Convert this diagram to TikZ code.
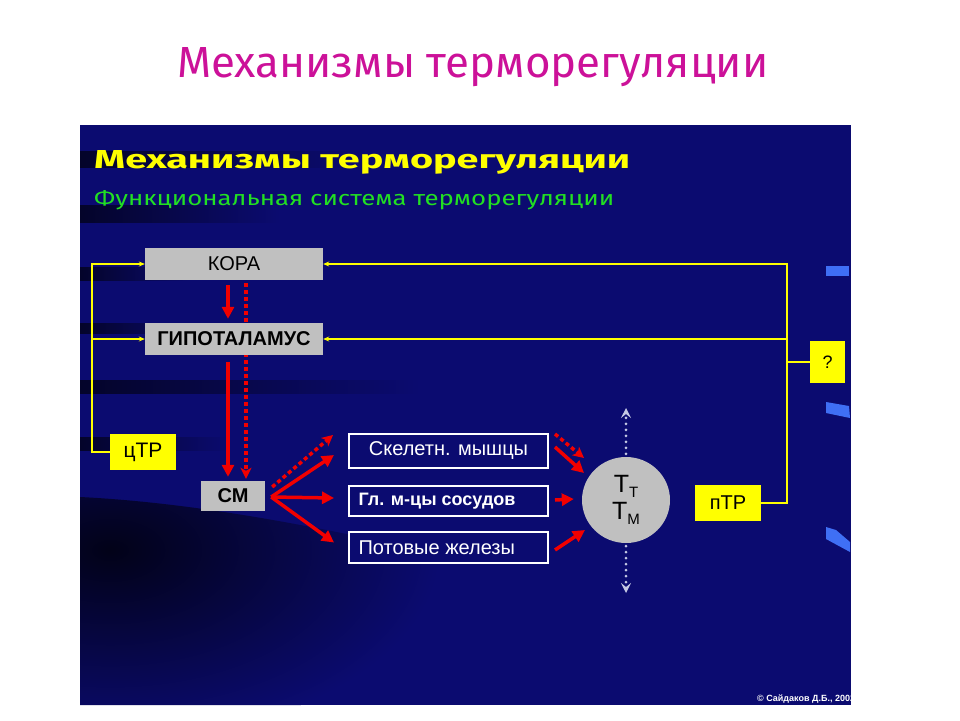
\documentclass[tikz,border=0pt]{standalone}
\usepackage{fontspec}
\setmainfont{Liberation Sans}
\newfontfamily\titlefont{Fira Sans}
\usepackage{graphicx}
\usetikzlibrary{arrows.meta,shapes.geometric,calc}
\definecolor{panel}{HTML}{0B0B70}
\definecolor{band}{HTML}{04042A}
\definecolor{deep}{HTML}{020218}
\definecolor{ttl}{HTML}{CC1199}
\definecolor{ylw}{HTML}{FFFF00}
\definecolor{grn}{HTML}{22E022}
\definecolor{gry}{HTML}{C0C0C0}
\definecolor{rdc}{HTML}{F20000}
\definecolor{streak}{HTML}{3F6FF5}
\definecolor{gdc}{HTML}{C4C8E4}
\pgfdeclarelayer{back}\pgfdeclarelayer{mid}\pgfsetlayers{back,mid,main}
\begin{document}
\begin{tikzpicture}[x=1pt,y=-1pt,
  gbox/.style={fill=gry,inner sep=0pt,text=black},
  ybox/.style={fill=ylw,inner sep=0pt,text=black},
  wbox/.style={draw=white,line width=2pt,fill=panel,inner sep=0pt,text=white},
  yl/.style={draw=ylw,line width=1.5pt},
  ya/.style={yl,-{Stealth[length=6pt,width=5pt]}},
  rs/.style={draw=rdc,line width=3.5pt,-{Triangle[length=12pt,width=12pt]}},
  rdot/.style={draw=rdc,line width=3.5pt,dash pattern=on 4pt off 3pt,-{Stealth[length=11pt,width=11pt,inset=3pt]}},
  gdot/.style={draw=gdc,line width=3pt,line cap=round,dash pattern=on 0pt off 6pt,-{Stealth[length=10pt,width=10pt,inset=4pt]}},
  bandsh/.style={left color=band,right color=panel}]
\useasboundingbox (0,0) rectangle (960,720);
\begin{pgfonlayer}{back}
\fill[white] (0,0) rectangle (960,720);
\node[fill=panel,minimum width=771pt,minimum height=580pt,inner sep=0pt,anchor=north west] (panel) at (80,125) {};
% dark streaks of the slide background
\shade[bandsh] (80,151) rectangle (360,167);
\shade[bandsh] (80,205) rectangle (280,222);
\shade[bandsh] (80,267) rectangle (190,280);
\shade[bandsh] (80,323) rectangle (200,333);
\shade[bandsh] (80,380) rectangle (420,393);
\shade[bandsh] (80,437) rectangle (230,450);
\begin{scope}
\clip (80,497) .. controls (200,503) and (330,528) .. (500,568) -- (500,705) -- (80,705) -- cycle;
\shade[inner color=deep,outer color=panel] (110,550) ellipse (330 and 190);
\end{scope}
\fill[streak] (826,266) rectangle (849,276);
\fill[streak] (826,402) -- (849,406) -- (850,418) -- (826,413) -- cycle;
\fill[streak] (826,527) -- (836,530) -- (850,542) -- (850,552) -- (826,539) -- cycle;
\end{pgfonlayer}

% titles
\node[anchor=base west,text=ttl,inner sep=0pt] (title) at (177,77)
  {\titlefont\resizebox{591pt}{30pt}{Механизмы терморегуляции}};
\node[anchor=base west,text=ylw,inner sep=0pt] (ptitle) at (94,168)
  {\titlefont\resizebox{536pt}{18pt}{\bfseries Механизмы терморегуляции}};
\node[anchor=base west,text=grn,inner sep=0pt] (psub) at (94,205)
  {\titlefont\resizebox{520pt}{15pt}{Функциональная система терморегуляции}};

% boxes
\node[gbox,minimum width=178pt,minimum height=32pt,font=\fontsize{20}{20}\selectfont] (kora) at (234,264) {КОРА};
\node[gbox,minimum width=178pt,minimum height=32pt,font=\bfseries\fontsize{20}{20}\selectfont] (gip) at (234,339) {ГИПОТАЛАМУС};
\node[gbox,minimum width=64pt,minimum height=30pt,font=\bfseries\fontsize{20}{20}\selectfont] (cm) at (233,496) {СМ};
\node[ybox,minimum width=66pt,minimum height=36pt,font=\fontsize{21}{21}\selectfont] (ctr) at (143,452) {цТР};
\node[ybox,minimum width=66pt,minimum height=36pt,font=\fontsize{20}{20}\selectfont] (ptr) at (728,503) {пТР};
\node[ybox,minimum width=35pt,minimum height=42pt,font=\fontsize{18}{18}\selectfont] (q) at (827.5,362) {?};
\node[wbox,minimum width=199pt,minimum height=34pt,font=\fontsize{20}{20}\selectfont] (skel) at (448.5,451) {Скелетн. мышцы};
\node[wbox,minimum width=199pt,minimum height=30pt,font=\bfseries\fontsize{18}{18}\selectfont] (gl) at (448.5,501) {\makebox[180pt][l]{Гл. м-цы сосудов}};
\node[wbox,minimum width=199pt,minimum height=31pt,font=\fontsize{20}{20}\selectfont] (pot) at (448.5,547.5) {\makebox[180pt][l]{Потовые железы}};
\node[ellipse,fill=gry,minimum width=88pt,minimum height=86pt,inner sep=0pt,align=center,font=\fontsize{25}{27}\selectfont] (circ) at (626,500)
  {Т\raisebox{-5pt}{\fontsize{15}{15}\selectfont Т}\\Т\raisebox{-5pt}{\fontsize{15}{15}\selectfont М}};

% yellow feedback lines
\coordinate (lx) at (92,400);
\coordinate (rx) at (787,400);
\draw[ya] (ctr.west) -| (lx |- kora.west) -- (kora.west);
\draw[ya] (lx |- gip.west) -- (gip.west);
\draw[ya] (ptr.east) -| (rx |- kora.east) -- (kora.east);
\draw[ya] (rx |- gip.east) -- (gip.east);
\draw[yl] (q.west) -- (rx |- q.west);

% red pathways
\coordinate (ks) at ($(kora.south)+(-6,0)$);
\coordinate (kd) at ($(kora.south)+(12,0)$);
\coordinate (gn) at ($(gip.north)+(-6,0)$);
\coordinate (gs) at ($(gip.south)+(-6,0)$);
\begin{pgfonlayer}{mid}
\draw[rdot,shorten <=3pt,shorten >=2pt] (kd) -- (kd |- cm.north);
\end{pgfonlayer}
\draw[rs,shorten <=5pt,shorten >=4pt] (ks) -- (gn);
\draw[rs,shorten <=7pt,shorten >=4pt] (gs) -- (gs |- cm.north);
\coordinate (cmr) at ($(cm.east)+(6,1)$);
\draw[rs] (cmr) -- ($(skel.west)+(-14,4)$);
\draw[rs] (cmr) -- ($(gl.west)+(-14,-3)$);
\draw[rs] (cmr) -- ($(pot.west)+(-14,-5)$);
\draw[rdot] ($(cm.east)+(7,-9)$) -- ($(skel.west)+(-15,-16)$);
\draw[rs] ($(skel.east)+(6,-4)$) -- ($(circ.center)+(-42,-27)$);
\draw[rdot] ($(skel.east)+(6,-17)$) -- ($(circ.center)+(-42,-42)$);
\draw[rs] ($(gl.east)+(6,-1)$) -- ($(circ.west)+(-8,-1)$);
\draw[rs] ($(pot.east)+(6,2.5)$) -- ($(circ.center)+(-41,30)$);

% grey dotted arrows
\coordinate (up) at (626,408);
\coordinate (down) at (626,593);
\draw[gdot] ($(circ.north)+(0,-3)$) -- (up);
\draw[gdot] ($(circ.south)+(0,3)$) -- (down);

% copyright
\begin{scope}
\clip (80,125) rectangle (851,705);
\node[anchor=base west,text=white,inner sep=0pt,font=\bfseries\fontsize{9}{9}\selectfont] (copy) at (757,701) {© Сайдаков Д.Б., 2002};
\end{scope}
\end{tikzpicture}
\end{document}
